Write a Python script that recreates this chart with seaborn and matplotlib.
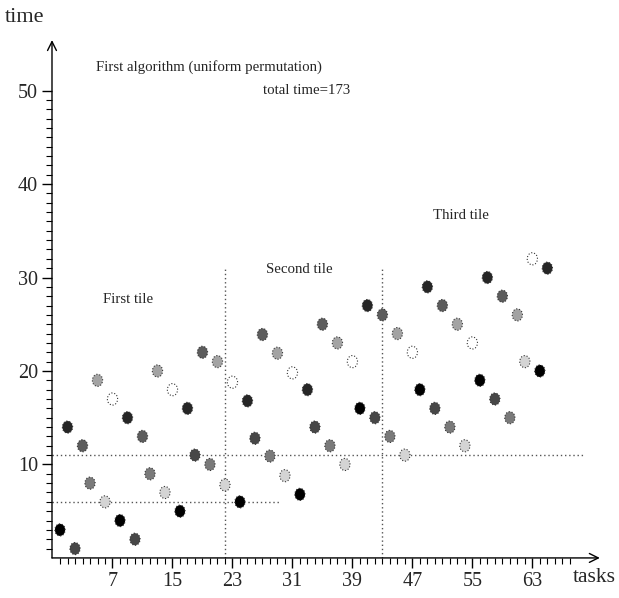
import pandas as pd
import matplotlib

matplotlib.use("Agg")
import matplotlib.pyplot as plt
from matplotlib.path import Path
import seaborn as sns

# Start time of each task (tasks in execution order)
tiempos = [
    3, 14, 1, 12, 8, 19, 6, 17, 4, 15, 2, 13, 9, 20, 7, 18, 5, 16, 11, 22, 10, 21,
    7.8, 18.8, 6, 16.8, 12.8, 23.9, 10.9, 21.9, 8.8, 19.8, 6.8, 18, 14, 25, 12, 23,
    10, 21, 16, 27, 15,
    26, 13, 24, 11, 22, 18, 29, 16, 27, 14, 25, 12, 23, 19, 30, 17, 28, 15, 26, 21,
    32, 20, 31,
]
# Processor (grey shade) of each task
procesador = [
    0, 1, 2, 3, 4, 5, 6, 7, 0, 1, 2, 3, 4, 5, 6, 7, 0, 1, 2, 3, 4, 5,
    6, 7, 0, 1, 2, 3, 4, 5, 6, 7, 0, 1, 2, 3, 4, 5, 6, 7, 0, 1, 2,
    3, 4, 5, 6, 7, 0, 1, 2, 3, 4, 5, 6, 7, 0, 1, 2, 3, 4, 5, 6, 7, 0, 1,
]
tareas = list(range(len(tiempos)))

grises = ["#000000", "#262626", "#474747", "#5c5c5c", "#7a7a7a",
          "#a3a3a3", "#d4d4d4", "#ffffff"]

xticks = [7, 15, 23, 31, 39, 47, 55, 63]
yticks = [10, 20, 30, 40, 50]

# Tile limits (dotted lines)
cortes_x = [22, 43]
cortes_x_alto = 31
cortes_y = [6, 11]
cortes_y_fin = [29.3, 69.7]

textos = [
    (4.8, 52.5, "First algorithm (uniform permutation)"),
    (27.1, 50.0, "total time=173"),
    (49.7, 36.6, "Third tile"),
    (27.5, 30.9, "Second tile"),
    (5.7, 27.6, "First tile"),
]

df = pd.DataFrame({"tarea": tareas, "tiempo": tiempos, "proc": procesador})

sns.set_theme(style="white")
plt.rcParams["font.family"] = ["Liberation Serif", "DejaVu Serif"]

fig = plt.figure(figsize=(6.19, 5.98), dpi=100)
ax = fig.add_axes([0.084, 0.067, 0.885, 0.866])

# dotted tile lines
ax.vlines(cortes_x, 0, cortes_x_alto, colors="#555555", linestyles=(0, (1, 2)), lw=1)
ax.hlines(cortes_y, -1.07, cortes_y_fin, colors="#555555", linestyles=(0, (1, 2)), lw=1)

# slightly tall ellipse as marker
circ = Path.unit_circle()
elipse = Path(circ.vertices * [1.0, 1.18], circ.codes)

sns.scatterplot(
    data=df,
    x="tarea",
    y="tiempo",
    hue="proc",
    palette=dict(enumerate(grises)),
    marker=elipse,
    s=76,
    edgecolor="#333333",
    linewidth=0.8,
    linestyle=":",
    legend=False,
    zorder=3,
    ax=ax,
)

ax.set_xlim(-1.07, 72)
ax.set_ylim(0, 55.4)
ax.set_xlabel("")
ax.set_ylabel("")
ax.set_xticks(xticks)
ax.set_yticks(yticks)
ax.set_xticks(range(0, 69), minor=True)
ax.set_yticks(range(1, 51), minor=True)
ax.tick_params(which="major", direction="out", length=7, width=1, color="black",
               labelsize=14.5, pad=3, bottom=True, left=True)
ax.tick_params(which="minor", direction="out", length=4, width=0.8, color="black",
               bottom=True, left=True)

for s in ax.spines.values():
    s.set_visible(False)

# axes with arrow heads
flecha = dict(arrowstyle="->", lw=1, color="black", mutation_scale=16,
              shrinkA=0, shrinkB=0)
ax.annotate("", xy=(1, 0), xytext=(0, 0), xycoords="axes fraction",
            arrowprops=flecha, annotation_clip=False)
ax.annotate("", xy=(0, 1), xytext=(0, 0), xycoords="axes fraction",
            arrowprops=flecha, annotation_clip=False)

for x, y, t in textos:
    ax.text(x, y, t, fontsize=10.7, ha="left", va="center")

fig.text(5 / 619, 1 - 18 / 598, "time", fontsize=16, ha="left", va="center")
fig.text(616 / 619, 1 - 578 / 598, "tasks", fontsize=15.5, ha="right", va="center")

plt.savefig("out.png", dpi=100)
plt.close()
